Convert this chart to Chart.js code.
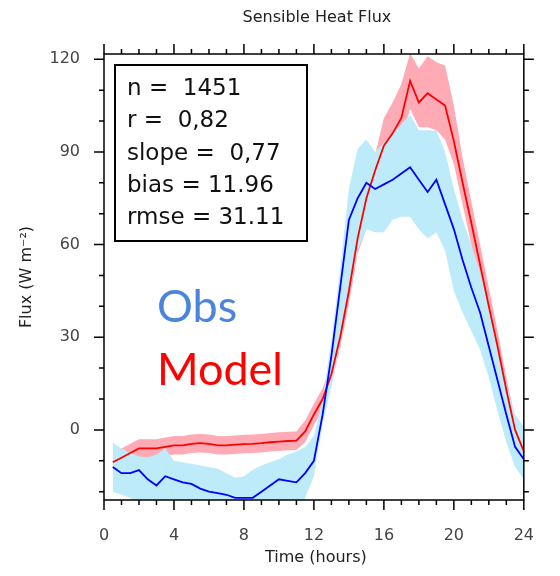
<!DOCTYPE html>
<html>
<head>
<meta charset="utf-8">
<script src="https://cdn.jsdelivr.net/npm/chart.js@4.4.0/dist/chart.umd.min.js"></script>
<style>
  html, body { margin: 0; padding: 0; background: #fff; }
  #wrap { width: 560px; height: 576px; }
</style>
</head>
<body>
<div id="wrap"><canvas id="c" width="560" height="576"></canvas></div>
<script>
// Sensible heat flux, diurnal cycle (half-hourly means)
const hours = [0.5,1,1.5,2,2.5,3,3.5,4,4.5,5,5.5,6,6.5,7,7.5,8,8.5,9,9.5,10,10.5,11,11.5,12,
  12.5,13,13.5,14,14.5,15,15.5,16,16.5,17,17.5,18,18.5,19,19.5,20,20.5,21,21.5,22,22.5,23,23.5,24];

const obs = [-12,-14,-14,-13,-16,-18,-15,-16,-17,-17.5,-19,-20,-20.5,-21,-22,-22,-22,-20,-18,-16,-16.5,-17,-14,-10,
  5,24,46,68,75,80,78,79.5,81,83,85,81,77,81,73,65,55,46,38,27,16,5,-5.5,-9.5];
const obsHigh = [-4,-6,-7.5,-8.5,-9,-8,-6,-10,-10.5,-11,-11.5,-12,-12.5,-14,-15.5,-15,-13,-11.5,-10.5,-9.5,-8,-7,-5.5,-2,
  10,29,52,78,91,94,90,93,96,99,102,97,97,97,90,78,68,60,51,40,28,15,5,1];
const obsLow = [-20,-21,-22,-24,-26,-28,-28,-28,-28,-29,-30,-30,-30,-30,-30,-30,-30,-30,-30,-30,-30,-29,-22,-15,
  2,14,28,44,58,65,64,64,68,69,69,65,62,64,58,45,38,32,26,17,6,-4,-12,-16];

const model = [-10.5,-9,-7.5,-6,-6,-6,-5.5,-5,-5,-4.5,-4.3,-4.5,-5,-5,-4.8,-4.6,-4.5,-4.3,-4,-3.8,-3.6,-3.5,-0.5,5,
  10,18,30,45,62,75,84,92,96,101,113,106,109,107,105,93.5,80,67,53.5,40,27,13,0,-7];
const modelHigh = [-7.5,-6,-4.5,-3,-3,-3,-2.5,-2,-2,-1.5,-1.3,-1.5,-2,-2,-1.8,-1.6,-1.5,-1.3,-1,-0.8,-0.6,-0.5,3,8.5,
  13.5,21.5,33.5,49,66,80,89,101,106,112,122,117,121,119,118,105,88,74,60,46,32,17,4,-4];
const modelLow = [-13.5,-12,-10.5,-9,-9,-9,-8.5,-8,-8,-7.5,-7.3,-7.5,-8,-8,-7.8,-7.6,-7.5,-7.3,-7,-6.8,-6.6,-6.5,-4,1.5,
  6.5,14.5,26.5,41,57,65,76,84,88,94,104,98,98,97,94,86,73,60,47,34,22,9,-4,-10];

const xTicks = [0,4,8,12,16,20,24];
const yTicks = [0,30,60,90,120];
const statLines = ['n =  1451', 'r =  0,82', 'slope =  0,77', 'bias = 11.96', 'rmse = 31.11'];

const FONT = '"DejaVu Sans", sans-serif';

function pts(ys){ return hours.map((h, i) => ({ x: h, y: ys[i] })); }

function band(label, ys, color, fill){
  return { label, data: pts(ys), borderWidth: 0, pointRadius: 0, backgroundColor: color,
    fill: fill, tension: 0 };
}
function line(label, ys, color){
  return { label, data: pts(ys), borderColor: color, borderWidth: 1.8, pointRadius: 0,
    fill: false, tension: 0 };
}

// frame, minor/major ticks and text annotations
const decor = {
  id: 'decor',
  afterDraw(chart){
    const { ctx, chartArea: a, scales: { x, y } } = chart;
    ctx.save();
    ctx.strokeStyle = '#000';
    ctx.lineWidth = 1.5;
    ctx.strokeRect(a.left, a.top, a.right - a.left, a.bottom - a.top);

    ctx.beginPath();
    for (let h = 0; h <= 24; h++) {
      const px = x.getPixelForValue(h);
      const len = h % 4 === 0 ? 10 : 5;
      ctx.moveTo(px, a.bottom); ctx.lineTo(px, a.bottom + len);
      ctx.moveTo(px, a.top); ctx.lineTo(px, a.top - len);
    }
    for (let v = -20; v <= 120; v += 10) {
      const py = y.getPixelForValue(v);
      const len = v % 30 === 0 ? 10 : 5;
      ctx.moveTo(a.left, py); ctx.lineTo(a.left - len, py);
      ctx.moveTo(a.right, py); ctx.lineTo(a.right + len, py);
    }
    ctx.stroke();

    const cx = (a.left + a.right) / 2;
    const cy = (a.top + a.bottom) / 2;
    ctx.fillStyle = '#222';
    ctx.textAlign = 'center';
    ctx.textBaseline = 'middle';
    ctx.font = '16px ' + FONT;
    ctx.fillText('Sensible Heat Flux', cx + 3, 18);
    ctx.fillText('Time (hours)', cx + 2, 558);
    ctx.save();
    ctx.translate(27, cy);
    ctx.rotate(-Math.PI / 2);
    ctx.fillText('Flux (W m\u207B\u00B2)', 0, 0);
    ctx.restore();

    // statistics box
    ctx.lineWidth = 2;
    ctx.strokeRect(a.left + 11, a.top + 11, 192, 176);
    ctx.fillStyle = '#111';
    ctx.textAlign = 'left';
    ctx.font = '23px ' + FONT;
    statLines.forEach((t, i) => ctx.fillText(t, a.left + 23, a.top + 35 + i * 32.3));

    // legend words
    ctx.textBaseline = 'alphabetic';
    ctx.font = '40px Lato, sans-serif';
    const k = 126 / ctx.measureText('Model').width;
    ctx.font = (40 * k).toFixed(1) + 'px Lato, sans-serif';
    ctx.fillStyle = '#4a84dc';
    ctx.fillText('Obs', 157, 322);
    ctx.fillStyle = '#ff0000';
    ctx.fillText('Model', 157, 385);
    ctx.restore();
  }
};

new Chart(document.getElementById('c'), {
  type: 'line',
  data: {
    datasets: [
      line('Obs', obs, '#0000ff'),
      line('Model', model, '#ff0000'),
      band('Obs range', obsHigh, '#bdebfa', '+1'),
      band('Obs low', obsLow, 'rgba(0,0,0,0)', false),
      band('Model range', modelHigh, '#ffabb6', '+1'),
      band('Model low', modelLow, 'rgba(0,0,0,0)', false)
    ]
  },
  options: {
    responsive: false,
    animation: false,
    layout: { padding: { left: 0, right: 10, top: 54, bottom: 0 } },
    plugins: { legend: { display: false }, tooltip: { enabled: false }, title: { display: false } },
    scales: {
      x: {
        type: 'linear', min: 0, max: 24,
        grid: { display: false, drawTicks: false },
        border: { display: false },
        afterBuildTicks: s => { s.ticks = xTicks.map(v => ({ value: v })); },
        afterFit: s => { s.height = 76; },
        ticks: { padding: 26, color: '#444', font: { family: FONT, size: 16 }, maxRotation: 0 }
      },
      y: {
        type: 'linear', min: -22.7, max: 121.7,
        grid: { display: false, drawTicks: false },
        border: { display: false },
        afterBuildTicks: s => { s.ticks = yTicks.map(v => ({ value: v })); },
        afterFit: s => { s.width = 104; },
        ticks: { padding: 24, color: '#444', font: { family: FONT, size: 16 } }
      }
    }
  },
  plugins: [decor]
});
</script>
</body>
</html>
